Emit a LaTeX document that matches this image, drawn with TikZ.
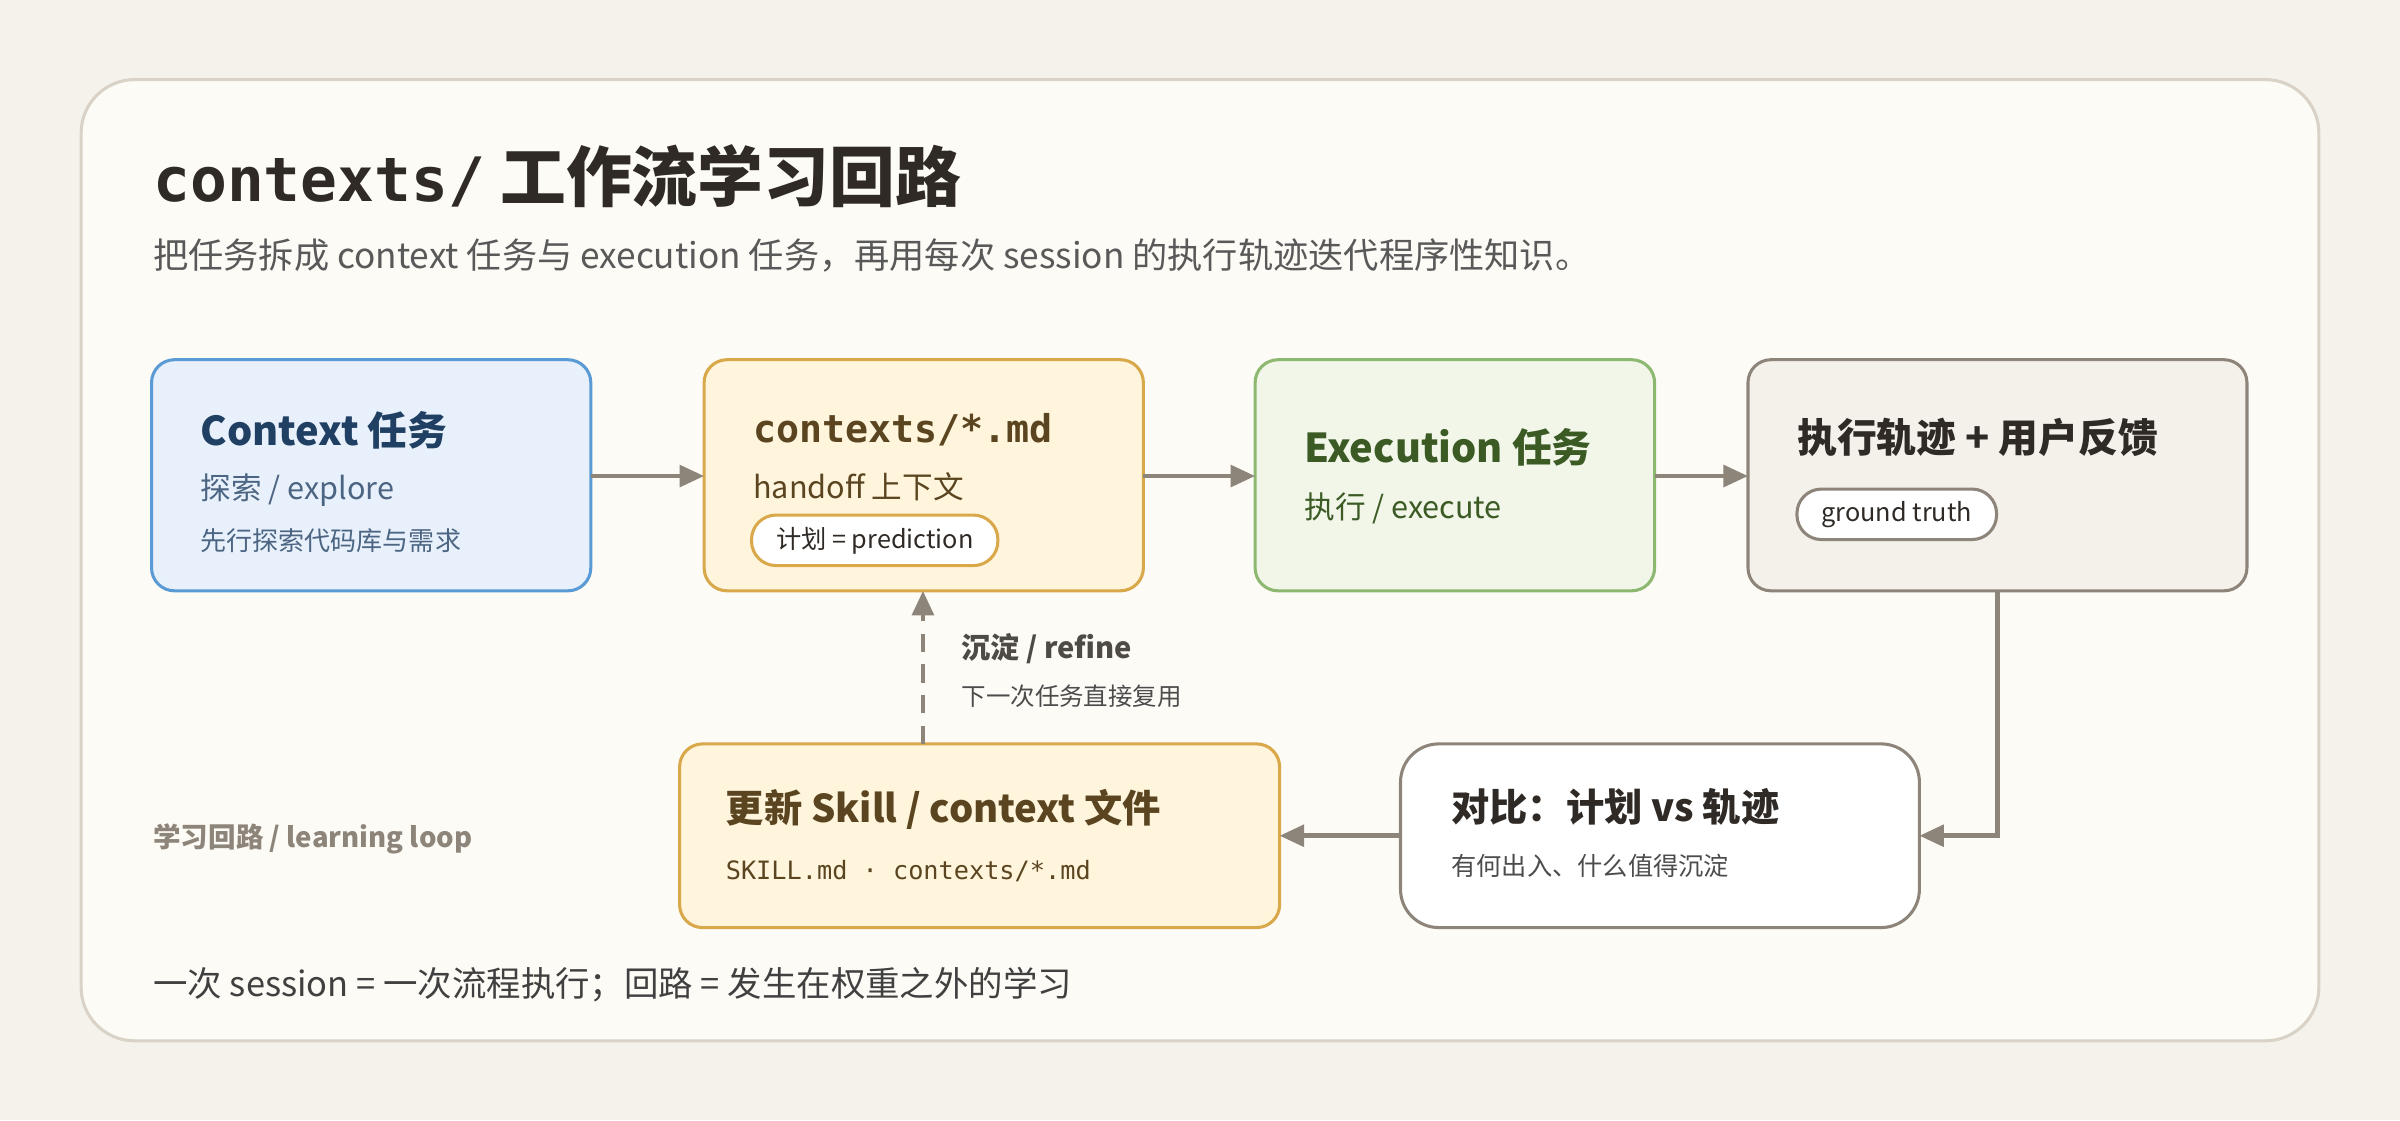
\documentclass[tikz,border=0pt]{standalone}
\usepackage{fontspec}
\setmainfont{Noto Sans CJK SC}
\setmonofont{DejaVu Sans Mono}
\usetikzlibrary{positioning}
\usetikzlibrary{arrows.meta}
\definecolor{bg}{HTML}{F5F2EC}
\definecolor{card}{HTML}{FDFBF6}
\definecolor{cardline}{HTML}{D9D2C7}
\definecolor{arr}{HTML}{8E857A}
\definecolor{bluef}{HTML}{E8F1FB}
\definecolor{bluel}{HTML}{5A9BD5}
\definecolor{bluet}{HTML}{1F3F63}
\definecolor{yelf}{HTML}{FFF5DC}
\definecolor{yell}{HTML}{D9A84A}
\definecolor{yelt}{HTML}{5A4520}
\definecolor{grnf}{HTML}{F1F6E9}
\definecolor{grnl}{HTML}{8DB870}
\definecolor{grnt}{HTML}{3C5A24}
\definecolor{grayf}{HTML}{F4F0EA}
\definecolor{ink}{HTML}{2F2A25}
\tikzset{
  box/.style={draw, line width=2pt, rounded corners=15pt},
  pill/.style={draw, line width=2pt, rounded corners=16pt, fill=white, inner xsep=16pt, minimum height=33pt, font=\fontsize{16.5}{18}\selectfont, text=ink},
  txt/.style={anchor=west, inner sep=0pt},
  flow/.style={-{Triangle[length=16pt,width=14pt]}, line width=3pt, draw=arr},
}
\begin{document}
\begin{tikzpicture}[x=1pt,y=-1pt]
              % Fondo
              \fill[bg] (0,0) rectangle (1568,732);
              \useasboundingbox (0,0) rectangle (1568,732);
              \draw[fill=card, draw=cardline, line width=2pt, rounded corners=35pt] (53,52) rectangle (1515,680);
              \node[txt, text=ink] (title) at (100,115) {\fontsize{43}{46}\selectfont\bfseries\texttt{\fontsize{40}{44}\selectfont contexts/} 工作流学习回路};
              \node[txt, text=black!65] (sub) at (100,167) {\fontsize{23}{26}\selectfont 把任务拆成 context 任务与 execution 任务，再用每次 session 的执行轨迹迭代程序性知识。};

              % Cajas
              \draw[box, fill=bluef, draw=bluel] (99,235) rectangle (386,386);
              \coordinate (a) at (386,311);
              \node[txt, text=bluet] (at) at (131,281) {\fontsize{26}{28}\selectfont\bfseries Context 任务};
              \node[txt, text=bluet!80] (as) at (131,320) {\fontsize{20}{22}\selectfont 探索 / explore};
              \node[txt, text=bluet!80] (ad) at (131,353) {\fontsize{17}{18}\selectfont 先行探索代码库与需求};

              \draw[box, fill=yelf, draw=yell] (460,235) rectangle (747,386);
              \coordinate (bl) at (460,311);
              \coordinate (br) at (747,311);
              \coordinate (bb) at (603,386);
              \node[txt, text=yelt] (bt) at (492,281) {\fontsize{25}{28}\selectfont\bfseries\ttfamily contexts/*.md};
              \node[txt, text=yelt] (bs) at (492,318) {\fontsize{20}{22}\selectfont handoff 上下文};
              \node[pill, draw=yell, anchor=west] (bp) at (490,353) {计划 = prediction};

              \draw[box, fill=grnf, draw=grnl] (820,235) rectangle (1081,386);
              \coordinate (cl) at (820,311);
              \coordinate (cr) at (1081,311);
              \node[txt, text=grnt] (ct) at (852,292) {\fontsize{26}{28}\selectfont\bfseries Execution 任务};
              \node[txt, text=grnt] (cs) at (852,332) {\fontsize{20}{22}\selectfont 执行 / execute};

              \draw[box, fill=grayf, draw=arr] (1142,235) rectangle (1468,386);
              \coordinate (dl) at (1142,311);
              \coordinate (db) at (1305,386);
              \node[txt, text=ink] (dt) at (1174,286) {\fontsize{26}{28}\selectfont\bfseries 执行轨迹 + 用户反馈};
              \node[pill, draw=arr, anchor=west] (dp) at (1173,336) {ground truth};

              \draw[box, fill=white, draw=arr, rounded corners=25pt] (915,486) rectangle (1254,606);
              \coordinate (el) at (915,546);
              \coordinate (er) at (1254,546);
              \node[txt, text=ink] (et) at (948,527) {\fontsize{25}{26}\selectfont\bfseries 对比：计划 vs 轨迹};
              \node[txt, text=black!70] (es) at (948,566) {\fontsize{16.5}{18}\selectfont 有何出入、什么值得沉淀};

              \draw[box, fill=yelf, draw=yell] (444,486) rectangle (836,606);
              \coordinate (fr) at (836,546);
              \coordinate (ft) at (603,486);
              \node[txt, text=yelt] (ftt) at (474,529) {\fontsize{25}{26}\selectfont\bfseries 更新 Skill / context 文件};
              \node[txt, text=yelt] (fs) at (474,569) {\fontsize{16.5}{18}\selectfont\ttfamily SKILL.md · contexts/*.md};

              % Flechas
              \draw[flow] (a) -- (bl);
              \draw[flow] (br) -- (cl);
              \draw[flow] (cr) -- (dl);
              \draw[flow] (db) |- (er);
              \draw[flow] (el) -- (fr);
              \draw[flow, dashed, dash pattern=on 12pt off 8pt] (ft) -- (bb);

              % Textos
              \node[txt, text=ink!85] (r1) at (628,424) {\fontsize{19}{20}\selectfont\bfseries 沉淀 / refine};
              \node[txt, text=black!70] (r2) at (628,455) {\fontsize{16}{17}\selectfont 下一次任务直接复用};
              \node[txt, text=arr] (loop) at (100,548) {\fontsize{18}{19}\selectfont\bfseries 学习回路 / learning loop};
              \node[txt, text=black!75] (foot) at (100,643) {\fontsize{22.5}{24}\selectfont 一次 session = 一次流程执行；回路 = 发生在权重之外的学习};
            \end{tikzpicture}
\end{document}
